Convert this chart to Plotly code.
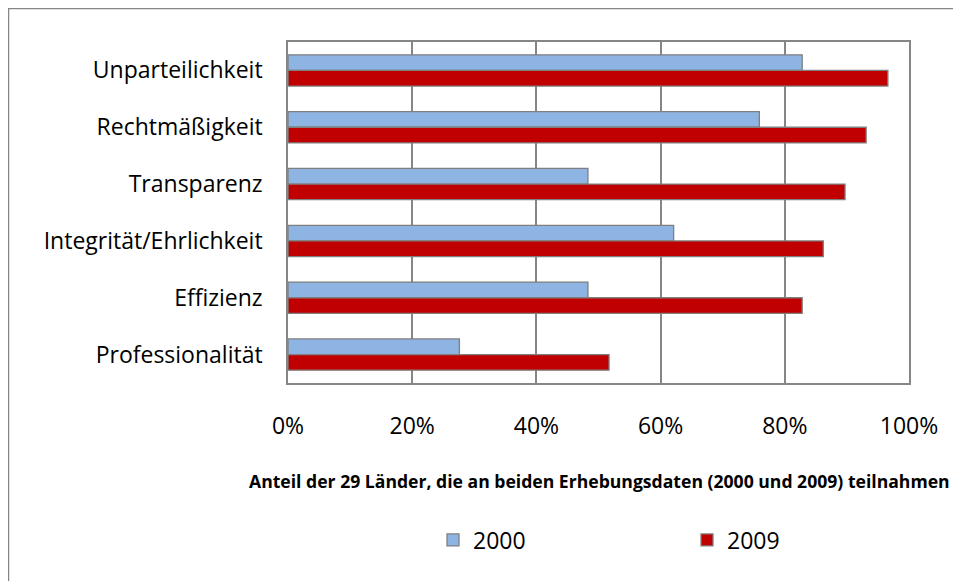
import plotly.graph_objects as go

categories = ["Unparteilichkeit", "Rechtmäßigkeit", "Transparenz",
              "Integrität/Ehrlichkeit", "Effizienz", "Professionalität"]
values_2000 = [0.828, 0.759, 0.483, 0.621, 0.483, 0.276]
values_2009 = [0.966, 0.931, 0.897, 0.862, 0.828, 0.517]
tick_vals = [0, 0.2, 0.4, 0.6, 0.8, 1.0]
tick_text = ["0%", "20%", "40%", "60%", "80%", "100%"]
x_title = "Anteil der 29 Länder, die an beiden Erhebungsdaten (2000 und 2009) teilnahmen"

FONT = "Open Sans, Carlito, Calibri, sans-serif"
GRID = "#868686"

W, H = 961, 581
OFF = 8  # page body margin offset
L, R, T, B = 288 - OFF, 909 - OFF, 42 - OFF, 383 - OFF

fig = go.Figure()
fig.add_trace(go.Bar(name="2000", y=categories, x=values_2000, orientation="h",
                     marker=dict(color="#8EB4E3", line=dict(color="#7F7F7F", width=1.3))))
fig.add_trace(go.Bar(name="2009", y=categories, x=values_2009, orientation="h",
                     marker=dict(color="#C00000", line=dict(color="#7F7F7F", width=1.3))))

def px_x(p):
    return (p - OFF - L) / (R - L)

def px_y(p):
    return (B - (p - OFF)) / (B - T)

fig.update_layout(
    width=W, height=H,
    margin=dict(l=L, r=W - R, t=T, b=H - B),
    paper_bgcolor="white", plot_bgcolor="white",
    barmode="group", bargap=0.45, bargroupgap=0,
    font=dict(family=FONT, size=23, color="#000000"),
    showlegend=True,
    legend=dict(orientation="h", x=px_x(433), xanchor="left", y=px_y(540), yanchor="middle",
                entrywidth=209, entrywidthmode="pixels",
                font=dict(family=FONT, size=23, color="#000000"),
                bgcolor="rgba(0,0,0,0)", itemwidth=30, tracegroupgap=0),
    xaxis=dict(range=[0, 1], tickvals=tick_vals, ticktext=tick_text,
               showgrid=True, gridcolor=GRID, gridwidth=1.5,
               showline=True, linecolor=GRID, linewidth=1.5, mirror=True,
               zeroline=False, ticks="", ticklabelstandoff=22,
               tickfont=dict(family=FONT, size=23, color="#000000"), fixedrange=True),
    yaxis=dict(autorange="reversed", showgrid=False,
               showline=True, linecolor=GRID, linewidth=1.5, mirror=True,
               ticks="", ticklabelstandoff=19,
               tickfont=dict(family=FONT, size=23, color="#000000"), fixedrange=True),
    shapes=[dict(type="rect", xref="paper", yref="paper",
                 x0=px_x(8.5), y0=px_y(640), x1=px_x(1020), y1=px_y(8.5),
                 line=dict(color=GRID, width=1.5), fillcolor="rgba(0,0,0,0)", layer="below")],
    annotations=[dict(text="<b>" + x_title + "</b>", xref="paper", yref="paper",
                      x=px_x(599), y=px_y(481), xanchor="center", yanchor="middle",
                      showarrow=False, font=dict(family=FONT, size=17.6, color="#000000"))],
)

fig.write_html("out.html")
